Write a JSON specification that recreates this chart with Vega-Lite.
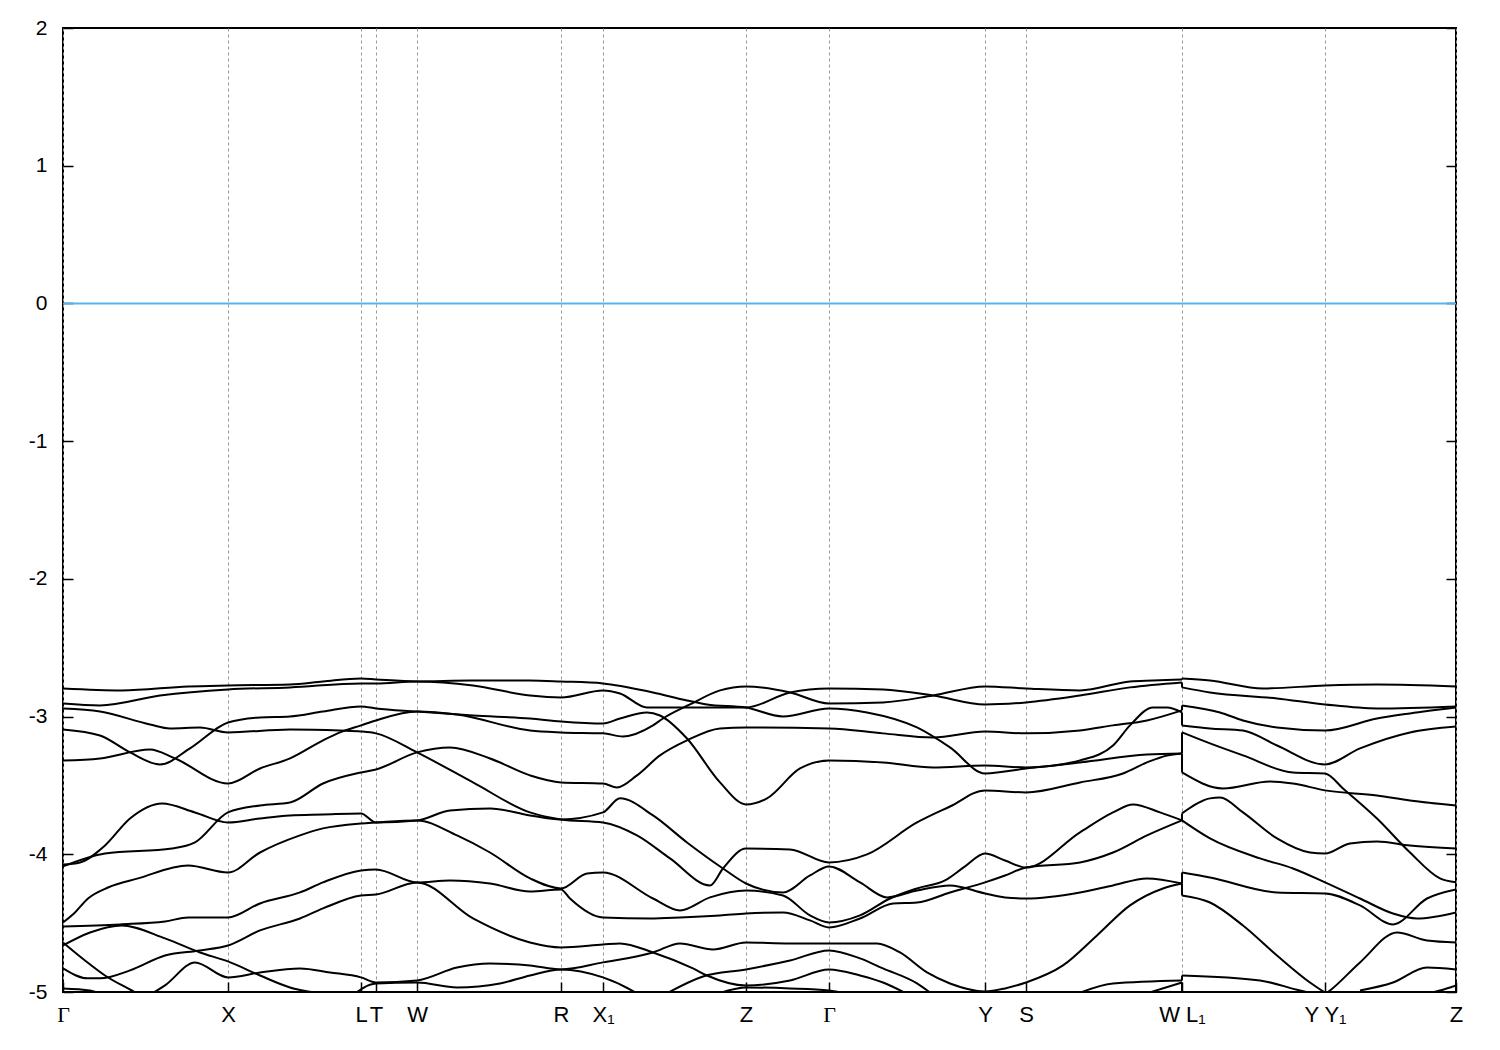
{
"$schema": "https://vega.github.io/schema/vega-lite/v6.json",
"width": 1393, "height": 964,
"autosize": {"type": "none"},
"padding": {"left": 63, "top": 28, "right": 44, "bottom": 58},
"background": "white",
"config": {"view": {"stroke": "#000", "strokeWidth": 2}},
"datasets": {
"bands": [
{"b":"c1","k":0,"e":-2.796},{"b":"c1","k":59,"e":-2.810},{"b":"c1","k":125,"e":-2.781},{"b":"c1","k":165,"e":-2.774},{"b":"c1","k":227,"e":-2.767},{"b":"c1","k":260,"e":-2.745},{"b":"c1","k":298,"e":-2.723},{"b":"c1","k":313,"e":-2.730},{"b":"c1","k":354,"e":-2.745},{"b":"c1","k":407,"e":-2.738},{"b":"c1","k":467,"e":-2.738},{"b":"c1","k":498,"e":-2.745},{"b":"c1","k":540,"e":-2.759},{"b":"c1","k":590,"e":-2.825},{"b":"c1","k":624,"e":-2.883},{"b":"c1","k":644,"e":-2.912},{"b":"c1","k":683,"e":-2.934},{"b":"c1","k":720,"e":-2.999},{"b":"c1","k":766,"e":-2.941},{"b":"c1","k":804,"e":-2.970},{"b":"c1","k":854,"e":-3.079},{"b":"c1","k":887,"e":-3.224},{"b":"c1","k":922,"e":-3.413},{"b":"c1","k":963,"e":-3.377},{"b":"c1","k":1017,"e":-3.319},{"b":"c1","k":1050,"e":-3.210},{"b":"c1","k":1067,"e":-3.064},{"b":"c1","k":1090,"e":-2.934},{"b":"c1","k":1104,"e":-2.934},{"b":"c1","k":1119,"e":-2.970},
{"b":"c2","k":0,"e":-2.905},{"b":"c2","k":37,"e":-2.919},{"b":"c2","k":97,"e":-2.847},{"b":"c2","k":165,"e":-2.803},{"b":"c2","k":227,"e":-2.788},{"b":"c2","k":298,"e":-2.759},{"b":"c2","k":313,"e":-2.759},{"b":"c2","k":354,"e":-2.745},{"b":"c2","k":410,"e":-2.774},{"b":"c2","k":467,"e":-2.847},{"b":"c2","k":498,"e":-2.861},{"b":"c2","k":540,"e":-2.810},{"b":"c2","k":557,"e":-2.832},{"b":"c2","k":584,"e":-2.934},{"b":"c2","k":630,"e":-2.934},{"b":"c2","k":683,"e":-2.934},{"b":"c2","k":727,"e":-2.825},{"b":"c2","k":766,"e":-2.796},{"b":"c2","k":820,"e":-2.803},{"b":"c2","k":870,"e":-2.847},{"b":"c2","k":922,"e":-2.912},{"b":"c2","k":963,"e":-2.897},{"b":"c2","k":1017,"e":-2.847},{"b":"c2","k":1067,"e":-2.788},{"b":"c2","k":1119,"e":-2.752},
{"b":"c3","k":0,"e":-2.941},{"b":"c3","k":37,"e":-2.963},{"b":"c3","k":87,"e":-3.057},{"b":"c3","k":107,"e":-3.086},{"b":"c3","k":137,"e":-3.079},{"b":"c3","k":165,"e":-3.115},{"b":"c3","k":227,"e":-3.093},{"b":"c3","k":277,"e":-3.101},{"b":"c3","k":298,"e":-3.108},{"b":"c3","k":313,"e":-3.122},{"b":"c3","k":354,"e":-3.260},{"b":"c3","k":410,"e":-3.478},{"b":"c3","k":467,"e":-3.696},{"b":"c3","k":498,"e":-3.747},{"b":"c3","k":540,"e":-3.769},{"b":"c3","k":574,"e":-3.863},{"b":"c3","k":607,"e":-4.030},{"b":"c3","k":647,"e":-4.226},{"b":"c3","k":660,"e":-4.103},{"b":"c3","k":683,"e":-3.958},{"b":"c3","k":727,"e":-3.965},{"b":"c3","k":766,"e":-4.059},{"b":"c3","k":804,"e":-4.001},{"b":"c3","k":854,"e":-3.769},{"b":"c3","k":887,"e":-3.653},{"b":"c3","k":922,"e":-3.536},{"b":"c3","k":963,"e":-3.551},{"b":"c3","k":1017,"e":-3.478},{"b":"c3","k":1060,"e":-3.413},{"b":"c3","k":1084,"e":-3.333},{"b":"c3","k":1104,"e":-3.282},{"b":"c3","k":1119,"e":-3.268},
{"b":"c4","k":0,"e":-3.093},{"b":"c4","k":37,"e":-3.137},{"b":"c4","k":67,"e":-3.260},{"b":"c4","k":97,"e":-3.348},{"b":"c4","k":127,"e":-3.231},{"b":"c4","k":165,"e":-3.043},{"b":"c4","k":197,"e":-3.006},{"b":"c4","k":227,"e":-2.999},{"b":"c4","k":260,"e":-2.963},{"b":"c4","k":298,"e":-2.926},{"b":"c4","k":313,"e":-2.941},{"b":"c4","k":354,"e":-2.963},{"b":"c4","k":410,"e":-2.992},{"b":"c4","k":467,"e":-3.014},{"b":"c4","k":498,"e":-3.035},{"b":"c4","k":540,"e":-3.050},{"b":"c4","k":557,"e":-3.014},{"b":"c4","k":584,"e":-2.970},{"b":"c4","k":597,"e":-2.992},{"b":"c4","k":624,"e":-3.159},{"b":"c4","k":657,"e":-3.478},{"b":"c4","k":683,"e":-3.638},{"b":"c4","k":704,"e":-3.594},{"b":"c4","k":737,"e":-3.377},{"b":"c4","k":766,"e":-3.319},{"b":"c4","k":820,"e":-3.333},{"b":"c4","k":870,"e":-3.369},{"b":"c4","k":922,"e":-3.355},{"b":"c4","k":963,"e":-3.369},{"b":"c4","k":1017,"e":-3.333},{"b":"c4","k":1084,"e":-3.275},{"b":"c4","k":1119,"e":-3.268},
{"b":"c5","k":0,"e":-3.319},{"b":"c5","k":37,"e":-3.304},{"b":"c5","k":87,"e":-3.239},{"b":"c5","k":112,"e":-3.304},{"b":"c5","k":165,"e":-3.486},{"b":"c5","k":197,"e":-3.377},{"b":"c5","k":227,"e":-3.304},{"b":"c5","k":260,"e":-3.173},{"b":"c5","k":277,"e":-3.115},{"b":"c5","k":298,"e":-3.064},{"b":"c5","k":313,"e":-3.028},{"b":"c5","k":354,"e":-2.963},{"b":"c5","k":394,"e":-2.985},{"b":"c5","k":467,"e":-3.101},{"b":"c5","k":498,"e":-3.115},{"b":"c5","k":540,"e":-3.122},{"b":"c5","k":560,"e":-3.144},{"b":"c5","k":590,"e":-3.064},{"b":"c5","k":600,"e":-3.014},{"b":"c5","k":627,"e":-2.912},{"b":"c5","k":657,"e":-2.810},{"b":"c5","k":683,"e":-2.781},{"b":"c5","k":727,"e":-2.825},{"b":"c5","k":766,"e":-2.905},{"b":"c5","k":820,"e":-2.897},{"b":"c5","k":870,"e":-2.847},{"b":"c5","k":922,"e":-2.781},{"b":"c5","k":963,"e":-2.796},{"b":"c5","k":1017,"e":-2.810},{"b":"c5","k":1067,"e":-2.745},{"b":"c5","k":1090,"e":-2.738},{"b":"c5","k":1119,"e":-2.730},
{"b":"c6","k":0,"e":-4.088},{"b":"c6","k":42,"e":-3.994},{"b":"c6","k":109,"e":-3.958},{"b":"c6","k":132,"e":-3.914},{"b":"c6","k":165,"e":-3.696},{"b":"c6","k":197,"e":-3.645},{"b":"c6","k":227,"e":-3.624},{"b":"c6","k":260,"e":-3.486},{"b":"c6","k":298,"e":-3.406},{"b":"c6","k":313,"e":-3.384},{"b":"c6","k":354,"e":-3.260},{"b":"c6","k":387,"e":-3.224},{"b":"c6","k":427,"e":-3.304},{"b":"c6","k":467,"e":-3.427},{"b":"c6","k":498,"e":-3.478},{"b":"c6","k":540,"e":-3.486},{"b":"c6","k":554,"e":-3.515},{"b":"c6","k":574,"e":-3.427},{"b":"c6","k":597,"e":-3.282},{"b":"c6","k":624,"e":-3.173},{"b":"c6","k":657,"e":-3.086},{"b":"c6","k":683,"e":-3.079},{"b":"c6","k":766,"e":-3.086},{"b":"c6","k":820,"e":-3.122},{"b":"c6","k":870,"e":-3.152},{"b":"c6","k":922,"e":-3.108},{"b":"c6","k":963,"e":-3.122},{"b":"c6","k":1017,"e":-3.101},{"b":"c6","k":1050,"e":-3.064},{"b":"c6","k":1084,"e":-3.028},{"b":"c6","k":1119,"e":-2.955},
{"b":"c7","k":0,"e":-4.074},{"b":"c7","k":17,"e":-4.059},{"b":"c7","k":42,"e":-3.936},{"b":"c7","k":67,"e":-3.740},{"b":"c7","k":99,"e":-3.631},{"b":"c7","k":132,"e":-3.696},{"b":"c7","k":165,"e":-3.769},{"b":"c7","k":197,"e":-3.740},{"b":"c7","k":227,"e":-3.718},{"b":"c7","k":260,"e":-3.711},{"b":"c7","k":298,"e":-3.703},{"b":"c7","k":313,"e":-3.769},{"b":"c7","k":354,"e":-3.754},{"b":"c7","k":387,"e":-3.682},{"b":"c7","k":427,"e":-3.667},{"b":"c7","k":467,"e":-3.718},{"b":"c7","k":498,"e":-3.747},{"b":"c7","k":540,"e":-3.696},{"b":"c7","k":557,"e":-3.594},{"b":"c7","k":590,"e":-3.718},{"b":"c7","k":624,"e":-3.914},{"b":"c7","k":660,"e":-4.103},{"b":"c7","k":683,"e":-4.212},{"b":"c7","k":720,"e":-4.277},{"b":"c7","k":747,"e":-4.154},{"b":"c7","k":766,"e":-4.088},{"b":"c7","k":797,"e":-4.204},{"b":"c7","k":824,"e":-4.313},{"b":"c7","k":854,"e":-4.263},{"b":"c7","k":887,"e":-4.226},{"b":"c7","k":922,"e":-4.284},{"b":"c7","k":942,"e":-4.313},{"b":"c7","k":963,"e":-4.321},{"b":"c7","k":1017,"e":-4.277},{"b":"c7","k":1050,"e":-4.226},{"b":"c7","k":1084,"e":-4.175},{"b":"c7","k":1119,"e":-4.212},
{"b":"c8","k":0,"e":-4.495},{"b":"c8","k":12,"e":-4.422},{"b":"c8","k":25,"e":-4.321},{"b":"c8","k":45,"e":-4.241},{"b":"c8","k":75,"e":-4.175},{"b":"c8","k":125,"e":-4.081},{"b":"c8","k":165,"e":-4.132},{"b":"c8","k":197,"e":-3.987},{"b":"c8","k":237,"e":-3.863},{"b":"c8","k":260,"e":-3.812},{"b":"c8","k":298,"e":-3.776},{"b":"c8","k":313,"e":-3.769},{"b":"c8","k":354,"e":-3.754},{"b":"c8","k":394,"e":-3.863},{"b":"c8","k":427,"e":-3.987},{"b":"c8","k":467,"e":-4.175},{"b":"c8","k":498,"e":-4.248},{"b":"c8","k":524,"e":-4.139},{"b":"c8","k":540,"e":-4.132},{"b":"c8","k":590,"e":-4.321},{"b":"c8","k":617,"e":-4.408},{"b":"c8","k":647,"e":-4.313},{"b":"c8","k":683,"e":-4.263},{"b":"c8","k":720,"e":-4.299},{"b":"c8","k":747,"e":-4.444},{"b":"c8","k":766,"e":-4.495},{"b":"c8","k":797,"e":-4.444},{"b":"c8","k":827,"e":-4.321},{"b":"c8","k":854,"e":-4.248},{"b":"c8","k":882,"e":-4.190},{"b":"c8","k":902,"e":-4.088},{"b":"c8","k":922,"e":-3.994},{"b":"c8","k":942,"e":-4.045},{"b":"c8","k":963,"e":-4.096},{"b":"c8","k":1017,"e":-3.841},{"b":"c8","k":1050,"e":-3.696},{"b":"c8","k":1070,"e":-3.638},{"b":"c8","k":1097,"e":-3.696},{"b":"c8","k":1119,"e":-3.754},
{"b":"c9","k":0,"e":-4.524},{"b":"c9","k":57,"e":-4.509},{"b":"c9","k":102,"e":-4.488},{"b":"c9","k":125,"e":-4.459},{"b":"c9","k":165,"e":-4.459},{"b":"c9","k":197,"e":-4.357},{"b":"c9","k":237,"e":-4.277},{"b":"c9","k":260,"e":-4.204},{"b":"c9","k":298,"e":-4.117},{"b":"c9","k":313,"e":-4.110},{"b":"c9","k":354,"e":-4.204},{"b":"c9","k":387,"e":-4.190},{"b":"c9","k":427,"e":-4.212},{"b":"c9","k":467,"e":-4.270},{"b":"c9","k":498,"e":-4.255},{"b":"c9","k":507,"e":-4.321},{"b":"c9","k":540,"e":-4.459},{"b":"c9","k":587,"e":-4.466},{"b":"c9","k":617,"e":-4.459},{"b":"c9","k":657,"e":-4.444},{"b":"c9","k":683,"e":-4.430},{"b":"c9","k":720,"e":-4.422},{"b":"c9","k":747,"e":-4.480},{"b":"c9","k":766,"e":-4.531},{"b":"c9","k":797,"e":-4.466},{"b":"c9","k":830,"e":-4.357},{"b":"c9","k":854,"e":-4.350},{"b":"c9","k":887,"e":-4.277},{"b":"c9","k":922,"e":-4.204},{"b":"c9","k":942,"e":-4.154},{"b":"c9","k":963,"e":-4.096},{"b":"c9","k":1017,"e":-4.059},{"b":"c9","k":1050,"e":-3.987},{"b":"c9","k":1084,"e":-3.863},{"b":"c9","k":1119,"e":-3.754},
{"b":"c10","k":0,"e":-4.829},{"b":"c10","k":25,"e":-4.901},{"b":"c10","k":37,"e":-4.901},{"b":"c10","k":67,"e":-4.843},{"b":"c10","k":102,"e":-4.735},{"b":"c10","k":137,"e":-4.698},{"b":"c10","k":165,"e":-4.662},{"b":"c10","k":197,"e":-4.553},{"b":"c10","k":237,"e":-4.466},{"b":"c10","k":260,"e":-4.393},{"b":"c10","k":298,"e":-4.299},{"b":"c10","k":313,"e":-4.292},{"b":"c10","k":354,"e":-4.204},{"b":"c10","k":410,"e":-4.466},{"b":"c10","k":467,"e":-4.640},{"b":"c10","k":498,"e":-4.676},{"b":"c10","k":540,"e":-4.655},{"b":"c10","k":557,"e":-4.647},{"b":"c10","k":590,"e":-4.713},{"b":"c10","k":630,"e":-4.829},{"b":"c10","k":644,"e":-4.880},{"b":"c10","k":683,"e":-4.952},{"b":"c10","k":727,"e":-4.916},{"b":"c10","k":766,"e":-4.836},{"b":"c10","k":797,"e":-4.880},{"b":"c10","k":820,"e":-4.931},{"b":"c10","k":847,"e":-5.025},
{"b":"c11","k":77,"e":-5.061},{"b":"c11","k":102,"e":-4.952},{"b":"c11","k":132,"e":-4.785},{"b":"c11","k":165,"e":-4.894},{"b":"c11","k":197,"e":-4.858},{"b":"c11","k":237,"e":-4.829},{"b":"c11","k":267,"e":-4.858},{"b":"c11","k":298,"e":-4.894},{"b":"c11","k":313,"e":-4.931},{"b":"c11","k":354,"e":-4.916},{"b":"c11","k":394,"e":-4.822},{"b":"c11","k":427,"e":-4.793},{"b":"c11","k":467,"e":-4.807},{"b":"c11","k":498,"e":-4.836},{"b":"c11","k":540,"e":-4.785},{"b":"c11","k":590,"e":-4.713},{"b":"c11","k":617,"e":-4.647},{"b":"c11","k":650,"e":-4.691},{"b":"c11","k":683,"e":-4.640},{"b":"c11","k":727,"e":-4.647},{"b":"c11","k":766,"e":-4.647},{"b":"c11","k":814,"e":-4.647},{"b":"c11","k":837,"e":-4.713},{"b":"c11","k":864,"e":-4.858},{"b":"c11","k":887,"e":-4.938},{"b":"c11","k":922,"e":-4.996},{"b":"c11","k":942,"e":-4.974},{"b":"c11","k":963,"e":-4.931},{"b":"c11","k":1000,"e":-4.807},{"b":"c11","k":1034,"e":-4.589},{"b":"c11","k":1067,"e":-4.371},{"b":"c11","k":1100,"e":-4.248},{"b":"c11","k":1119,"e":-4.212},
{"b":"c12","k":0,"e":-4.662},{"b":"c12","k":27,"e":-4.568},{"b":"c12","k":59,"e":-4.517},{"b":"c12","k":102,"e":-4.611},{"b":"c12","k":137,"e":-4.713},{"b":"c12","k":165,"e":-4.778},{"b":"c12","k":197,"e":-4.880},{"b":"c12","k":227,"e":-4.967},{"b":"c12","k":257,"e":-5.010},{"b":"c12","k":287,"e":-5.040},
{"b":"c13","k":0,"e":-4.640},{"b":"c13","k":22,"e":-4.771},{"b":"c13","k":42,"e":-4.880},{"b":"c13","k":72,"e":-5.003},{"b":"c13","k":82,"e":-5.047},
{"b":"c14","k":0,"e":-4.974},{"b":"c14","k":27,"e":-4.989},{"b":"c14","k":42,"e":-5.025},
{"b":"c15","k":287,"e":-5.040},{"b":"c15","k":313,"e":-4.938},{"b":"c15","k":354,"e":-4.931},{"b":"c15","k":394,"e":-4.967},{"b":"c15","k":437,"e":-4.938},{"b":"c15","k":467,"e":-4.880},{"b":"c15","k":498,"e":-4.836},{"b":"c15","k":540,"e":-4.894},{"b":"c15","k":574,"e":-5.010},{"b":"c15","k":582,"e":-5.047},
{"b":"c16","k":600,"e":-5.025},{"b":"c16","k":640,"e":-4.887},{"b":"c16","k":683,"e":-4.836},{"b":"c16","k":727,"e":-4.771},{"b":"c16","k":766,"e":-4.698},{"b":"c16","k":797,"e":-4.756},{"b":"c16","k":820,"e":-4.829},{"b":"c16","k":854,"e":-4.938},{"b":"c16","k":872,"e":-5.032},
{"b":"c17","k":650,"e":-5.025},{"b":"c17","k":683,"e":-4.967},{"b":"c17","k":727,"e":-4.974},{"b":"c17","k":766,"e":-4.989},{"b":"c17","k":797,"e":-5.032},
{"b":"c18","k":1010,"e":-5.025},{"b":"c18","k":1050,"e":-4.938},{"b":"c18","k":1119,"e":-4.916},
{"b":"c19","k":1077,"e":-5.025},{"b":"c19","k":1119,"e":-4.931},
{"b":"r1","k":1119,"e":-2.723},{"b":"r1","k":1147,"e":-2.738},{"b":"r1","k":1200,"e":-2.796},{"b":"r1","k":1262,"e":-2.774},{"b":"r1","k":1314,"e":-2.767},{"b":"r1","k":1393,"e":-2.781},
{"b":"r2","k":1119,"e":-2.788},{"b":"r2","k":1147,"e":-2.825},{"b":"r2","k":1214,"e":-2.868},{"b":"r2","k":1262,"e":-2.912},{"b":"r2","k":1314,"e":-2.941},{"b":"r2","k":1393,"e":-2.926},
{"b":"r3","k":1119,"e":-2.919},{"b":"r3","k":1157,"e":-2.970},{"b":"r3","k":1180,"e":-3.028},{"b":"r3","k":1214,"e":-3.079},{"b":"r3","k":1262,"e":-3.101},{"b":"r3","k":1314,"e":-3.014},{"b":"r3","k":1347,"e":-2.977},{"b":"r3","k":1393,"e":-2.934},
{"b":"r4","k":1119,"e":-3.064},{"b":"r4","k":1147,"e":-3.086},{"b":"r4","k":1180,"e":-3.101},{"b":"r4","k":1214,"e":-3.210},{"b":"r4","k":1262,"e":-3.348},{"b":"r4","k":1297,"e":-3.231},{"b":"r4","k":1347,"e":-3.115},{"b":"r4","k":1393,"e":-3.072},
{"b":"r5","k":1119,"e":-3.115},{"b":"r5","k":1147,"e":-3.195},{"b":"r5","k":1180,"e":-3.282},{"b":"r5","k":1230,"e":-3.406},{"b":"r5","k":1262,"e":-3.413},{"b":"r5","k":1280,"e":-3.522},{"b":"r5","k":1314,"e":-3.740},{"b":"r5","k":1347,"e":-3.987},{"b":"r5","k":1377,"e":-4.175},{"b":"r5","k":1393,"e":-4.204},
{"b":"r6","k":1119,"e":-3.406},{"b":"r6","k":1160,"e":-3.522},{"b":"r6","k":1207,"e":-3.471},{"b":"r6","k":1230,"e":-3.486},{"b":"r6","k":1262,"e":-3.536},{"b":"r6","k":1314,"e":-3.573},{"b":"r6","k":1347,"e":-3.609},{"b":"r6","k":1393,"e":-3.645},
{"b":"r7","k":1119,"e":-3.703},{"b":"r7","k":1147,"e":-3.594},{"b":"r7","k":1157,"e":-3.587},{"b":"r7","k":1180,"e":-3.696},{"b":"r7","k":1214,"e":-3.885},{"b":"r7","k":1247,"e":-3.987},{"b":"r7","k":1262,"e":-3.994},{"b":"r7","k":1287,"e":-3.921},{"b":"r7","k":1314,"e":-3.907},{"b":"r7","k":1347,"e":-3.936},{"b":"r7","k":1393,"e":-3.958},
{"b":"r8","k":1119,"e":-3.754},{"b":"r8","k":1147,"e":-3.885},{"b":"r8","k":1197,"e":-4.030},{"b":"r8","k":1230,"e":-4.103},{"b":"r8","k":1262,"e":-4.204},{"b":"r8","k":1297,"e":-4.321},{"b":"r8","k":1330,"e":-4.430},{"b":"r8","k":1354,"e":-4.466},{"b":"r8","k":1393,"e":-4.422},
{"b":"r9","k":1119,"e":-4.132},{"b":"r9","k":1147,"e":-4.168},{"b":"r9","k":1214,"e":-4.277},{"b":"r9","k":1262,"e":-4.284},{"b":"r9","k":1297,"e":-4.371},{"b":"r9","k":1330,"e":-4.509},{"b":"r9","k":1364,"e":-4.321},{"b":"r9","k":1393,"e":-4.255},
{"b":"r10","k":1119,"e":-4.299},{"b":"r10","k":1147,"e":-4.350},{"b":"r10","k":1180,"e":-4.517},{"b":"r10","k":1214,"e":-4.735},{"b":"r10","k":1247,"e":-4.931},{"b":"r10","k":1262,"e":-5.003},{"b":"r10","k":1272,"e":-5.040},
{"b":"r11","k":1257,"e":-5.040},{"b":"r11","k":1267,"e":-4.989},{"b":"r11","k":1297,"e":-4.785},{"b":"r11","k":1334,"e":-4.568},{"b":"r11","k":1364,"e":-4.626},{"b":"r11","k":1393,"e":-4.640},
{"b":"r12","k":1119,"e":-4.880},{"b":"r12","k":1197,"e":-4.916},{"b":"r12","k":1237,"e":-4.989},{"b":"r12","k":1262,"e":-5.025},
{"b":"r13","k":1297,"e":-4.989},{"b":"r13","k":1330,"e":-4.931},{"b":"r13","k":1364,"e":-4.822},{"b":"r13","k":1393,"e":-4.836},
{"b":"r14","k":1347,"e":-5.032},{"b":"r14","k":1377,"e":-4.989},{"b":"r14","k":1393,"e":-4.952}
],
"jumps": [
{"k":1119,"e1":-2.730,"e2":-2.723},{"k":1119,"e1":-2.752,"e2":-2.788},{"k":1119,"e1":-2.919,"e2":-2.955},{"k":1119,"e1":-2.970,"e2":-3.064},{"k":1119,"e1":-3.115,"e2":-3.268},{"k":1119,"e1":-3.268,"e2":-3.406},{"k":1119,"e1":-3.703,"e2":-3.754},{"k":1119,"e1":-4.132,"e2":-4.212},{"k":1119,"e1":-4.212,"e2":-4.299},{"k":1119,"e1":-4.880,"e2":-4.916},{"k":1119,"e1":-4.931,"e2":-5.0}
]
},
"layer": [
{
"data": {"values": [{"z": 0}]},
"mark": {"type": "rule", "color": "#56b4e9", "strokeWidth": 2},
"encoding": {
"y": {"field": "z", "type": "quantitative", "scale": {"domain": [-5, 2], "nice": false, "zero": false}, "axis": null}
}
},
{
"data": {"name": "bands"},
"mark": {"type": "line", "interpolate": "monotone", "clip": true, "color": "#000", "strokeWidth": 2},
"encoding": {
"x": {"field": "k", "type": "quantitative", "scale": {"domain": [0, 1393], "nice": false, "zero": false},
"axis": {"title": null, "values": [0,165,298,313,354,498,540,683,766,922,963,1119,1262,1393],
"labelExpr": "datum.value==0?'Γ':datum.value==165?'X':datum.value==298?'L':datum.value==313?'T':datum.value==354?'W':datum.value==498?'R':datum.value==540?'X₁':datum.value==683?'Z':datum.value==766?'Γ':datum.value==922?'Y':datum.value==963?'S':datum.value==1119?'W L₁':datum.value==1262?'Y Y₁':'Z'",
"domain": false, "grid": true, "gridDash": [3,3], "gridColor": "#9a9a9a", "gridWidth": 1,
"ticks": true, "tickSize": -10, "tickColor": "#000", "tickWidth": 1.5,
"labelFont": {"condition": {"test": "datum.value==0 || datum.value==766", "value": "Liberation Serif"}, "value": "Liberation Sans"},
"labelFontSize": 22, "labelColor": "#000", "labelPadding": 22,
"labelOverlap": false, "labelFlush": false, "labelBound": false}},
"y": {"field": "e", "type": "quantitative", "scale": {"domain": [-5, 2], "nice": false, "zero": false},
"axis": {"title": null, "orient": "left", "values": [-5,-4,-3,-2,-1,0,1,2], "labelExpr": "''+datum.value",
"domain": false, "grid": false, "ticks": true, "tickSize": -10, "tickColor": "#000", "tickWidth": 1.5,
"labelFont": "Liberation Sans", "labelFontSize": 21, "labelColor": "#000", "labelPadding": 26,
"labelOverlap": false, "labelFlush": false, "labelBound": false}},
"detail": {"field": "b", "type": "nominal"}
}
},
{
"data": {"name": "jumps"},
"mark": {"type": "rule", "color": "#000", "strokeWidth": 2},
"encoding": {
"x": {"field": "k", "type": "quantitative", "scale": {"domain": [0, 1393], "nice": false, "zero": false}},
"y": {"field": "e1", "type": "quantitative", "scale": {"domain": [-5, 2], "nice": false, "zero": false},
"axis": {"title": null, "orient": "right", "values": [-5,-4,-3,-2,-1,0,1,2], "labels": false,
"domain": false, "grid": false, "ticks": true, "tickSize": -10, "tickColor": "#000", "tickWidth": 1.5}},
"y2": {"field": "e2"}
}
}
],
"resolve": {"axis": {"y": "independent"}}
}
